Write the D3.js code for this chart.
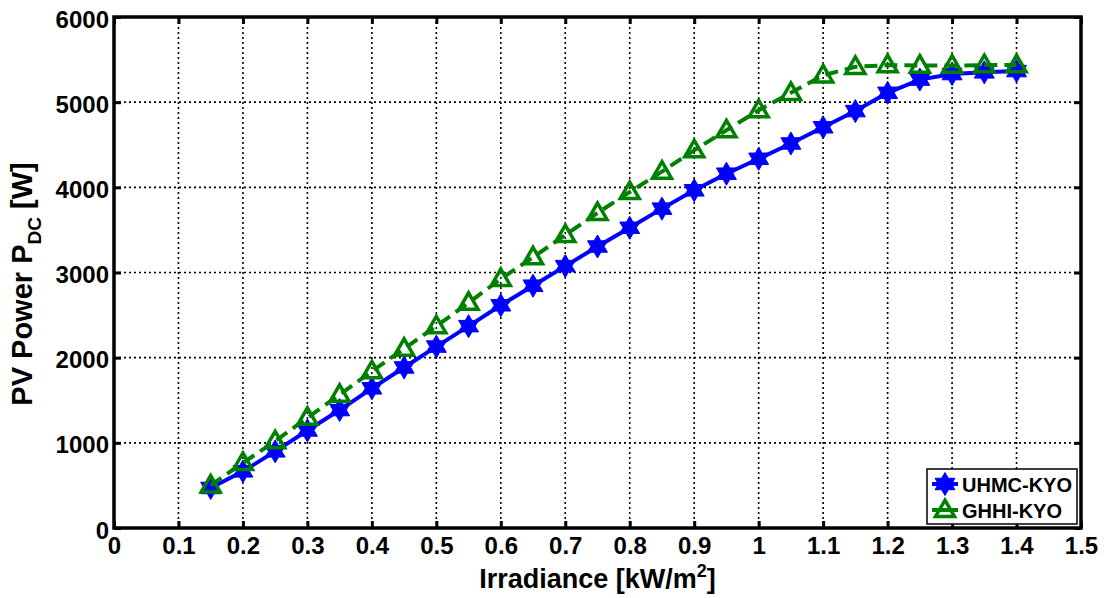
<!DOCTYPE html>
<html>
<head>
<meta charset="utf-8">
<script src="https://cdn.jsdelivr.net/npm/d3@7"></script>
<style>
  html, body { margin: 0; padding: 0; background: #fff; }
  svg { display: block; }
  text { font-family: "Liberation Sans", Arial, sans-serif; font-weight: bold; fill: #000; }
</style>
</head>
<body>
<svg id="chart" width="1104" height="598"></svg>
<script>
// Irradiance steps (kW/m^2)
const irradiance = [0.15, 0.2, 0.25, 0.3, 0.35, 0.4, 0.45, 0.5, 0.55, 0.6, 0.65, 0.7, 0.75,
  0.8, 0.85, 0.9, 0.95, 1.0, 1.05, 1.1, 1.15, 1.2, 1.25, 1.3, 1.35, 1.4];
// DC power of each configuration (W)
const uhmcKyo = [470, 665, 900, 1145, 1385, 1640, 1885, 2130, 2370, 2615, 2845, 3075, 3305,
  3525, 3750, 3965, 4160, 4335, 4515, 4705, 4895, 5110, 5265, 5330, 5350, 5365];
const ghhiKyo = [500, 765, 1020, 1295, 1565, 1840, 2105, 2370, 2645, 2925, 3180, 3440, 3700,
  3945, 4185, 4435, 4670, 4905, 5110, 5315, 5415, 5435, 5430, 5430, 5435, 5435];
const xTicks = [0, 0.1, 0.2, 0.3, 0.4, 0.5, 0.6, 0.7, 0.8, 0.9, 1, 1.1, 1.2, 1.3, 1.4, 1.5];
const yTicks = [0, 1000, 2000, 3000, 4000, 5000, 6000];
const seriesNames = ["UHMC-KYO", "GHHI-KYO"];

const svg = d3.select("#chart");
const pLeft = 114, pRight = 1081, pTop = 17, pBottom = 528;

const x = d3.scaleLinear().domain([0, 1.5]).range([pLeft, pRight]);
const y = d3.scaleLinear().domain([0, 6000]).range([pBottom, pTop]);

// dotted grid
const grid = svg.append("g");
grid.selectAll("line.gx").data(xTicks.slice(1, -1)).join("line")
  .attr("x1", d => x(d)).attr("x2", d => x(d))
  .attr("y1", pTop).attr("y2", pBottom)
  .attr("stroke", "#000").attr("stroke-width", 1.6).attr("stroke-dasharray", "2,3");
grid.selectAll("line.gy").data(yTicks.slice(1, -1)).join("line")
  .attr("x1", pLeft).attr("x2", pRight)
  .attr("y1", d => y(d)).attr("y2", d => y(d))
  .attr("stroke", "#000").attr("stroke-width", 1.6).attr("stroke-dasharray", "2,3");

// axes with inward ticks
const fmtX = d => d === 0 ? "0" : String(+d.toFixed(1));
const xAxisB = svg.append("g").attr("transform", `translate(0,${pBottom})`)
  .call(d3.axisBottom(x).tickValues(xTicks).tickSizeInner(-7).tickSizeOuter(0).tickPadding(9).tickFormat(fmtX));
const xAxisT = svg.append("g").attr("transform", `translate(0,${pTop})`)
  .call(d3.axisTop(x).tickValues(xTicks).tickSizeInner(-7).tickSizeOuter(0).tickFormat(""));
const yAxisL = svg.append("g").attr("transform", `translate(${pLeft},0)`)
  .call(d3.axisLeft(y).tickValues(yTicks).tickSizeInner(-7).tickSizeOuter(0).tickPadding(5).tickFormat(d3.format("d")));
const yAxisR = svg.append("g").attr("transform", `translate(${pRight},0)`)
  .call(d3.axisRight(y).tickValues(yTicks).tickSizeInner(-7).tickSizeOuter(0).tickFormat(""));

[xAxisB, xAxisT, yAxisL, yAxisR].forEach(g => {
  g.select(".domain").remove();
  g.selectAll(".tick line").attr("stroke", "#000").attr("stroke-width", 3);
  g.selectAll(".tick text").style("font-size", "24px").style("font-family", "Liberation Sans, Arial, sans-serif").style("font-weight", "bold").attr("fill", "#000");
});
xAxisB.selectAll(".tick text").attr("dy", "0.71em");
yAxisL.selectAll(".tick text").attr("dy", "0.42em");

// frame
svg.append("rect").attr("x", pLeft).attr("y", pTop).attr("width", pRight - pLeft).attr("height", pBottom - pTop)
  .attr("fill", "none").attr("stroke", "#000").attr("stroke-width", 3.5);

// hexagram marker path
function hexagram(r) {
  const pts = [];
  for (let i = 0; i < 12; i++) {
    const a = -Math.PI / 2 + i * Math.PI / 6;
    const rr = i % 2 === 0 ? r : r * 0.577;
    pts.push([rr * Math.cos(a), rr * Math.sin(a)]);
  }
  return "M" + pts.map(p => p.join(",")).join("L") + "Z";
}
function triangle(w) {
  const h = w * 0.866;
  return `M0,${-h * 0.6}L${w / 2},${h * 0.4}L${-w / 2},${h * 0.4}Z`;
}

const line = d3.line().x(d => x(d[0])).y(d => y(d[1]));
const uData = irradiance.map((v, i) => [v, uhmcKyo[i]]);
const gData = irradiance.map((v, i) => [v, ghhiKyo[i]]);

// UHMC-KYO: solid blue with hexagrams
svg.append("path").datum(uData).attr("d", line)
  .attr("fill", "none").attr("stroke", "#0000ff").attr("stroke-width", 4);
svg.append("g").selectAll("path").data(uData).join("path")
  .attr("transform", d => `translate(${x(d[0])},${y(d[1])})`)
  .attr("d", hexagram(11.5)).attr("fill", "#0000ff").attr("stroke", "#0000ff").attr("stroke-width", 1);

// GHHI-KYO: dashed green with open triangles
svg.append("path").datum(gData).attr("d", line)
  .attr("fill", "none").attr("stroke", "#008000").attr("stroke-width", 4).attr("stroke-dasharray", "13,7");
svg.append("g").selectAll("path").data(gData).join("path")
  .attr("transform", d => `translate(${x(d[0])},${y(d[1])})`)
  .attr("d", triangle(19)).attr("fill", "none").attr("stroke", "#008000").attr("stroke-width", 3.5)
  .attr("stroke-linejoin", "miter");

// axis titles
const xt = svg.append("text").attr("x", (pLeft + pRight) / 2).attr("y", 588)
  .attr("text-anchor", "middle").style("font-size", "27px");
xt.append("tspan").text("Irradiance [kW/m");
xt.append("tspan").attr("dy", -11).style("font-size", "18px").text("2");
xt.append("tspan").attr("dy", 11).text("]");

const yt = svg.append("text").attr("transform", `translate(32,284) rotate(-90)`)
  .attr("text-anchor", "middle").style("font-size", "29px");
yt.append("tspan").text("PV Power P");
yt.append("tspan").attr("dy", 9).style("font-size", "19px").text("DC");
yt.append("tspan").attr("dy", -9).text(" [W]");

// legend
const lg = svg.append("g").attr("transform", "translate(927,469)");
lg.append("rect").attr("width", 150).attr("height", 55).attr("fill", "#fff").attr("stroke", "#000").attr("stroke-width", 1.5);
const rows = [
  { name: seriesNames[0], color: "#0000ff", marker: hexagram(11.5), fill: "#0000ff", y: 15 },
  { name: seriesNames[1], color: "#008000", marker: triangle(19), fill: "none", y: 41 }
];
rows.forEach(r => {
  lg.append("line").attr("x1", 5).attr("x2", 31).attr("y1", r.y).attr("y2", r.y)
    .attr("stroke", r.color).attr("stroke-width", 4);
  lg.append("path").attr("transform", `translate(18,${r.y})`).attr("d", r.marker)
    .attr("fill", r.fill).attr("stroke", r.color).attr("stroke-width", r.fill === "none" ? 3.5 : 1);
  lg.append("text").attr("x", 35).attr("y", r.y + 8)
    .style("font-size", "20px").text(r.name);
});
</script>
</body>
</html>
